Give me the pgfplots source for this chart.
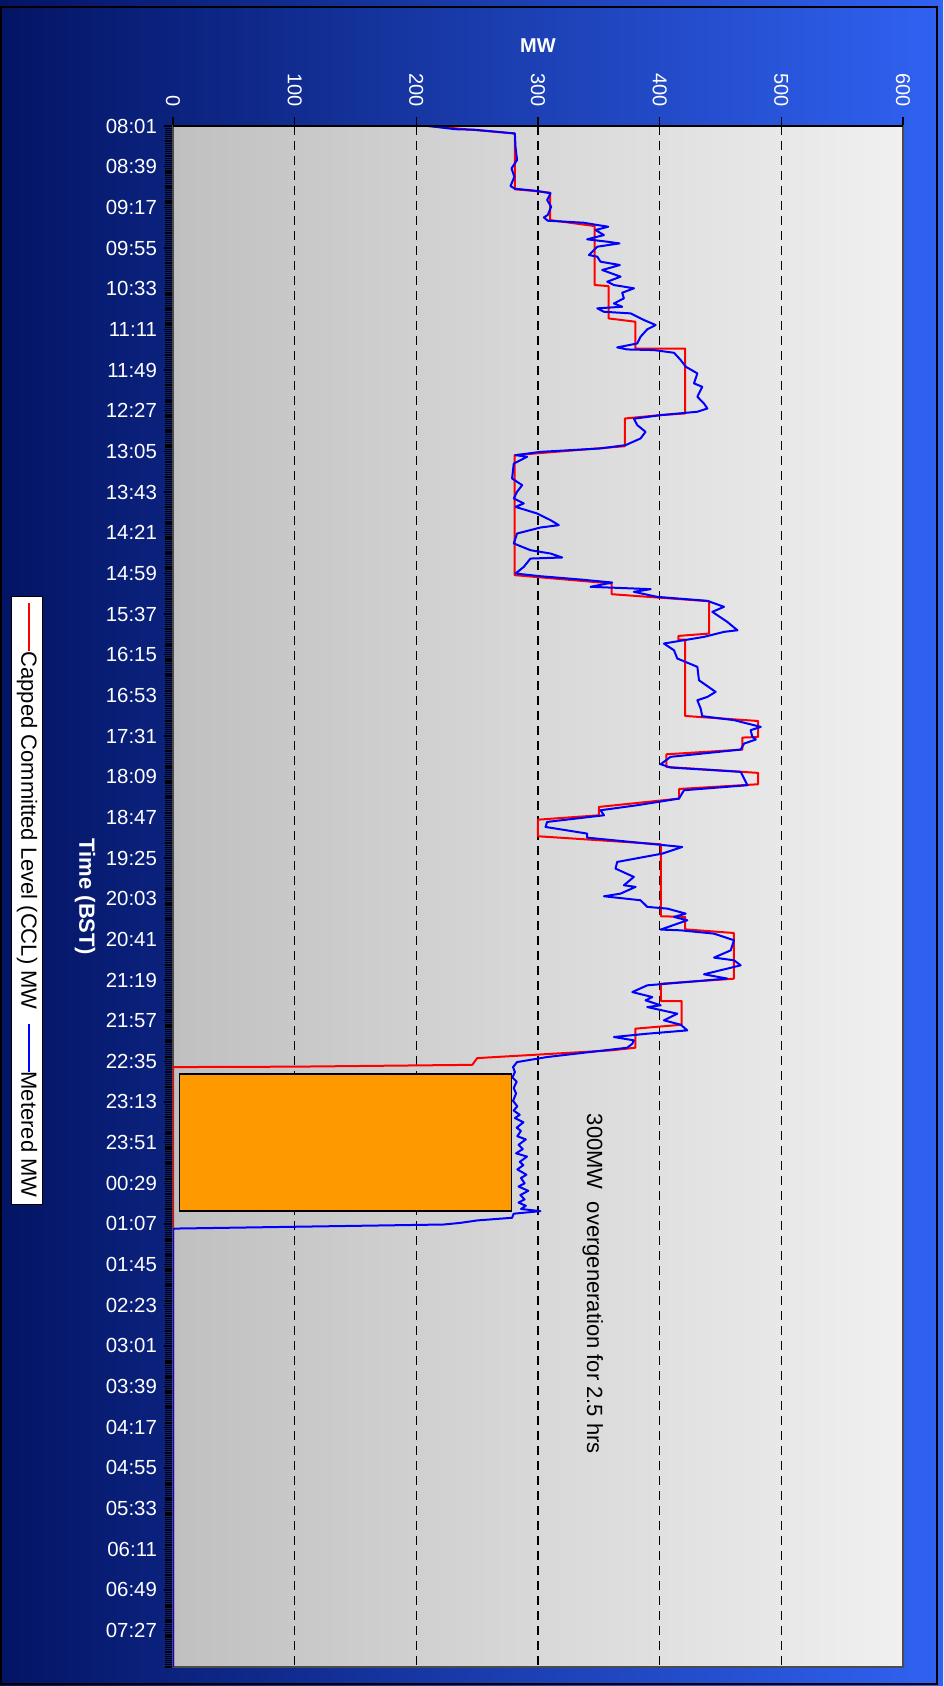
\documentclass[border=0pt]{standalone}
\usepackage{pgfplots}
\pgfplotsset{compat=1.18}
\usepackage{fontspec}
\setmainfont{Liberation Sans}

\definecolor{bgL}{RGB}{3,20,100}
\definecolor{bgR}{RGB}{48,98,242}
\definecolor{plotL}{RGB}{192,192,192}
\definecolor{plotM}{RGB}{222,222,222}
\definecolor{plotR}{RGB}{240,240,240}
\definecolor{ovg}{RGB}{255,153,0}

\begin{document}
\begin{tikzpicture}
% page background (1px = 0.5pt)
\fill[left color=bgL, right color=bgR] (0,0) rectangle (471.5pt,843pt);
\draw[black, line width=1pt] (0.5pt,1pt) rectangle (468.5pt,839.5pt);

\begin{axis}[
    at={(86.5pt,9.5pt)}, anchor=south west,
    scale only axis, width=365pt, height=770.5pt,
    xmin=0, xmax=600, ymin=0, ymax=1440,
    y dir=reverse,
    axis background/.style={left color=plotL, middle color=plotM, right color=plotR},
    axis line style={draw=gray!60!black, line width=0.8pt},
    xtick={0,100,...,600},
    xtick pos=right, xticklabel pos=right,
    xticklabel style={rotate=-90, anchor=east},
    xticklabel shift=1.5pt,
    ytick={0,38,...,1406},
    yticklabels={08:01,08:39,09:17,09:55,10:33,11:11,11:49,12:27,13:05,13:43,14:21,14:59,15:37,16:15,16:53,17:31,18:09,18:47,19:25,20:03,20:41,21:19,21:57,22:35,23:13,23:51,00:29,01:07,01:45,02:23,03:01,03:39,04:17,04:55,05:33,06:11,06:49,07:27},
    minor ytick={0,2,...,1440},
    ytick pos=left,
    yticklabel shift=0pt,
    tick label style={text=white, font=\fontsize{10}{12}\selectfont},
    yticklabel style={font=\fontsize{10.2}{12}\selectfont},
    /pgf/number format/assume math mode=true,
    tick align=outside,
    major tick length=4.5pt, minor tick length=4pt,
    tick style={black, line width=0.6pt},
    xmajorgrids,
    grid style={black, dash pattern=on 4.5pt off 3pt, line width=0.6pt},
    xlabel={MW},
    xlabel style={at={(axis description cs:0.5,1.052)}, anchor=center, text=white, font=\bfseries\fontsize{10}{12}\selectfont},
    ylabel={Time (BST)},
    ylabel style={at={(axis description cs:-0.1205,0.5)}, anchor=center, rotate=180, text=white, font=\bfseries\fontsize{11}{13}\selectfont},
]

% 2.5 h overgeneration box
\addplot[fill=ovg, draw=black, line width=0.8pt, forget plot] coordinates {
(5.2,885.6) (278.2,885.6) (278.2,1014) (5.2,1014) (5.2,885.6)
};

% Capped Committed Level
\addplot[red, line width=1pt, line join=round] coordinates {
(210,0) (281,7) (281,59.2) (295,60.5) (310,62.3) (310,87.9) (346.5,93.5)
(346.5,148.6) (358,149.6) (358,179.8) (380,182.9) (380,208.1) (421,208.1)
(421,268.6) (400,270.2) (371.5,273.3) (371.5,299.2) (280.7,307.6) (280.7,419.7)
(360.5,427.5) (360.5,437.5) (440.6,444.1) (440.6,474.3) (415.4,476.5)
(415.4,479.9) (421,479.9) (421,551.3) (481,556) (481,570.9) (468,571.5)
(468,582.7) (405.5,587.1) (405.5,598.9) (481,604.5) (481,615.1) (416,619.5)
(416,628.5) (350,636.3) (350,644.1) (300,648.2) (300,663.7) (401,671.2)
(401,738.5) (421,739) (421,750.7) (461,754.1) (461,796.8) (401,801.5)
(401,817.7) (418,817.7) (418,839.8) (380,843.5) (380,861.3) (360,863.8)
(250,871) (246,877.3) (100,879) (0,879.4) (0,1440)
};

% Metered
\addplot[blue, line width=1pt, line join=round] coordinates {
(210,0) (232,3) (248,3.5) (281,7) (281.5,19.3) (282.8,31.8) (278.2,39.6)
(280.6,47.4) (277.4,56.1) (281,58.6) (299.3,60.7) (310.3,62.9) (307.5,69.2)
(310.8,75.4) (308,83.2) (304.8,85.4) (308,88.5) (337.7,90.4) (348.7,92.5)
(357.7,94.1) (347.3,97.2) (354.2,101.9) (340.4,105.9) (356.9,108.1)
(367,109.7) (348.7,112.8) (341.8,120.6) (348.7,122.1) (351.4,126.8)
(359.6,128.4) (367.3,129.9) (352.8,134.6) (367.9,140.8) (356.9,145.5)
(362.4,148.6) (378.9,151.7) (369.2,155.8) (370.6,161.1) (362.4,165.8)
(369.2,168.9) (348.7,170.4) (354.2,173.6) (376.1,175.1) (387.1,181.3)
(396.7,186) (389.8,190) (384.3,196.9) (381.6,203.2) (365.1,206.9)
(373.4,208.8) (395.3,209.4) (411.8,211.9) (417.3,218.7) (421.4,224.9)
(431,231.2) (428.2,240.5) (435,243.7) (431,253) (436.4,259.3) (439.2,264)
(431,267) (400.8,270.2) (378.8,273.5) (381.6,279.5) (388.4,285.8)
(384.3,292) (372,298.2) (351.4,301.3) (302,304.5) (281.5,307.6)
(291.1,309.1) (280.1,315.4) (278.7,329.4) (287,335.6) (282.8,341.8)
(280.1,348.1) (288.3,352.7) (281.5,355.9) (299.3,362.1) (310.3,368.3)
(317.1,373) (302,375.2) (282.8,380.8) (280.1,390.1) (293.8,396.4)
(310.3,399.5) (319.9,403.2) (293.8,404.2) (288.3,412) (281.5,418.2)
(302,420.7) (335,423.8) (361,426.6) (343.2,430.6) (392.6,432.8)
(378.8,435.3) (398,440) (439.2,443.7) (452.9,449.3) (443.3,454)
(455.6,463.4) (463.9,471.2) (452.9,472.7) (436.4,477.4) (403.5,483.6)
(411.8,489.9) (414.5,497.6) (431,505.4) (432.3,517.9) (446,528.8)
(439.2,533.5) (431,536.6) (433.7,544.4) (435,551.5) (461.1,555.2)
(483.1,561.5) (474.8,564.6) (476.2,570.8) (479,573.3) (469.4,577.1)
(466.6,582.7) (409,589.5) (400.8,596.4) (409,599.5) (466.6,603.5)
(469.4,609.8) (472.1,616) (420,620.7) (415.9,628.5) (381.6,634.7)
(351.4,639.4) (354.2,644.1) (307.5,650.3) (306.2,655) (340.4,661.2)
(340.4,665) (384.3,669.9) (418.6,673.7) (402.2,679.9) (365.1,687.7)
(363.7,693.9) (378.8,701.7) (370.6,709.5) (380.2,711) (367.9,717.3)
(354.2,719.8) (384.3,723.5) (389.8,729.7) (406.3,731.3) (421.4,736)
(411.8,739.1) (422.7,742.2) (400.8,750.9) (417.3,751.6) (444.7,754.7)
(461.1,760.9) (458.4,770.3) (444.7,777.1) (461.1,779.6) (466.6,784.3)
(436.4,792.7) (455.6,796.7) (389.8,803) (377.5,809.3) (394,814)
(388.4,817) (400.8,821.7) (389.8,823.3) (414.5,829.5) (403.5,835.7)
(417.3,839.8) (422.7,845.1) (389.8,848.2) (362.4,851.3) (378.8,854.4)
(377.5,857.6) (373.4,861.3) (307.5,870) (282.8,874.7) (279.5,879.4)
(281,884) (279,889) (282.5,893) (280,899) (282,904) (279.5,911) (283,916)
(280,920) (285,924) (281,927) (288,931) (282.5,936) (286,939) (283,944)
(290,947) (284,952) (287.5,956) (282,960) (291,963) (285,968) (288,971)
(283,975) (290.5,980) (286,983) (289,988) (284,991) (292,995) (285.5,999)
(289,1003) (284,1006) (290,1009) (286,1012) (302,1014) (280,1016.4)
(278.7,1020.2) (250,1022.7) (236,1025) (222.5,1026.5) (1.6,1030.3)
(0,1031) (0,1440)
};

\draw[black, line width=1pt] (axis cs:0,0) -- (axis cs:600,0);
\node[rotate=-90, text=black, font=\fontsize{11}{13}\selectfont] at (axis cs:345,1082) {300MW\ \ overgeneration for 2.5 hrs};
\end{axis}

% legend (rotated like the rest of the chart), left of the time axis
\node[rotate=-90, draw=black, line width=0.6pt, fill=white, text=black,
      inner xsep=3.5pt, inner ysep=2.8pt, font=\fontsize{11}{13}\selectfont]
  at (13.5pt,392.75pt)
  {\textcolor{red}{\rule[0.3em]{24pt}{1pt}}Capped Committed Level (CCL) MW\hspace{7pt}\textcolor{blue}{\rule[0.3em]{24pt}{1pt}}Metered MW};

\pgfresetboundingbox
\path[use as bounding box] (0,0) rectangle (471.5pt,843pt);
\end{tikzpicture}
\end{document}
